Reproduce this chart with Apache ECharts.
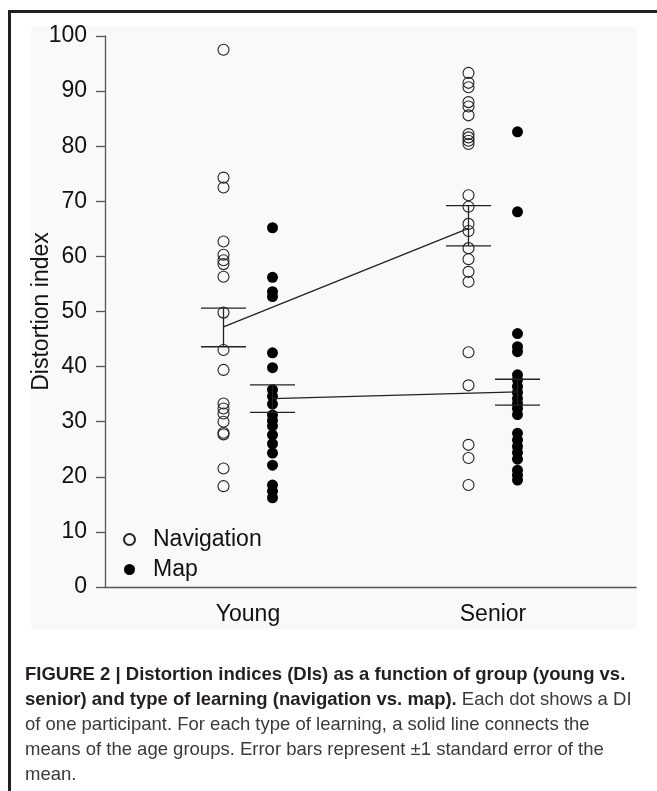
<!DOCTYPE html>
<html>
<head>
<meta charset="utf-8">
<script src="https://cdn.jsdelivr.net/npm/echarts@6/dist/echarts.min.js"></script>
<style>
  html, body { margin: 0; padding: 0; background: #fff; }
  #main { width: 657px; height: 791px; }
</style>
</head>
<body>
<div id="main"></div>
<script>
// groups and their positions on the x scale
var groups = ['Young', 'Senior'];
var groupPos = [1, 2];
var offset = 0.1;

// distortion index of each participant
var youngNav = [97.5, 74.3, 72.5, 62.7, 60.3, 59.3, 58.6, 56.3, 49.8, 43.0, 39.4, 33.3, 32.4, 31.5, 30.0, 28.0, 27.7, 21.5, 18.3];
var youngMap = [65.2, 56.2, 53.6, 52.7, 42.5, 39.8, 35.8, 34.6, 33.2, 31.2, 30.2, 29.2, 27.6, 26.0, 24.3, 22.1, 18.5, 17.4, 16.2];
var seniorNav = [93.3, 91.5, 90.7, 88.0, 87.2, 85.6, 82.2, 81.6, 81.0, 80.4, 71.1, 69.0, 65.9, 64.6, 61.5, 59.5, 57.2, 55.4, 42.6, 36.6, 25.8, 23.4, 18.5];
var seniorMap = [82.6, 68.1, 46.0, 43.6, 42.7, 38.5, 37.6, 36.4, 35.3, 34.2, 33.3, 32.4, 31.3, 27.9, 26.7, 25.5, 24.4, 23.2, 21.2, 20.3, 19.4];

// means and +-1 SE (young, senior)
var navMean = [47.2, 65.1];
var navLow = [43.6, 61.9];
var navHigh = [50.6, 69.2];
var mapMean = [34.2, 35.4];
var mapLow = [31.7, 33.0];
var mapHigh = [36.7, 37.7];

var yTicks = [0, 10, 20, 30, 40, 50, 60, 70, 80, 90, 100];

var dom = document.getElementById('main');
var myChart = echarts.init(dom, null, { renderer: 'canvas' });

function pts(vals, x) {
  return vals.map(function (v) { return [x, v]; });
}

var navPts = pts(youngNav, groupPos[0] - offset).concat(pts(seniorNav, groupPos[1] - offset));
var mapPts = pts(youngMap, groupPos[0] + offset).concat(pts(seniorMap, groupPos[1] + offset));

var errData = [];
for (var i = 0; i < groups.length; i++) {
  errData.push([groupPos[i] - offset, navLow[i], navHigh[i]]);
  errData.push([groupPos[i] + offset, mapLow[i], mapHigh[i]]);
}

var font = '"Liberation Sans", Arial, Helvetica, sans-serif';
var ink = '#111';

var option = {
  animation: false,
  backgroundColor: '#fff',
  textStyle: { fontFamily: font },
  grid: {
    left: 105,
    right: 21,
    top: 36,
    bottom: 204,
    outerBoundsMode: 'none'
  },
  graphic: [
    // light panel behind the plot
    { type: 'rect', z: -10, shape: { x: 31, y: 27, width: 606, height: 602 }, style: { fill: '#f9f9f9' } },
    // figure frame
    { type: 'rect', z: -5, shape: { x: 8, y: 10, width: 649, height: 3 }, style: { fill: '#231f20' } },
    { type: 'rect', z: -5, shape: { x: 8, y: 10, width: 3, height: 781 }, style: { fill: '#231f20' } },
    {
      type: 'text',
      left: 25,
      top: 665,
      style: {
        text: '{b|FIGURE 2 | Distortion indices (DIs) as a function of group (young vs.}\n' +
              '{b|senior) and type of learning (navigation vs. map).}{r| Each dot shows a DI}\n' +
              '{r|of one participant. For each type of learning, a solid line connects the}\n' +
              '{r|means of the age groups. Error bars represent \u00b11 standard error of the}\n' +
              '{r|mean.}',
        rich: {
          b: { fontFamily: font, fontSize: 18.5, fontWeight: 'bold', fill: '#231f20', lineHeight: 25 },
          r: { fontFamily: font, fontSize: 18.5, fill: '#3a3a3a', lineHeight: 25 }
        }
      }
    }
  ],
  legend: {
    orient: 'vertical',
    left: 118,
    top: 523,
    itemWidth: 11,
    itemHeight: 11,
    itemGap: 7,
    data: ['Navigation', 'Map'],
    textStyle: { fontSize: 23, color: ink, fontFamily: font, padding: [0, 0, 0, 13], lineHeight: 23 }
  },
  xAxis: {
    type: 'value',
    min: 0.4163,
    max: 2.5837,
    splitLine: { show: false },
    axisLine: { show: true, onZero: false, lineStyle: { color: '#555', width: 1.3 } },
    axisTick: { show: false },
    axisLabel: {
      customValues: groupPos,
      margin: 16,
      fontSize: 23,
      color: ink,
      fontFamily: font,
      formatter: function (v) {
        var k = groupPos.indexOf(Math.round(v * 1000) / 1000);
        return k >= 0 ? groups[k] : '';
      }
    }
  },
  yAxis: {
    type: 'value',
    min: 0,
    max: 100,
    interval: 10,
    name: 'Distortion index',
    nameLocation: 'middle',
    nameGap: 52,
    nameMoveOverlap: false,
    nameTextStyle: { fontSize: 23, color: ink, fontFamily: font },
    splitLine: { show: false },
    axisLine: { show: true, onZero: false, lineStyle: { color: '#555', width: 1.3 } },
    axisTick: { show: true, length: 9, lineStyle: { color: '#555', width: 1.3 } },
    axisLabel: {
      margin: 18,
      fontSize: 23,
      color: ink,
      fontFamily: font,
      formatter: function (v) { return yTicks.indexOf(v) >= 0 ? String(v) : ''; }
    }
  },
  series: [
    {
      name: 'Navigation',
      type: 'scatter',
      symbol: 'circle',
      symbolSize: 11,
      z: 3,
      itemStyle: { color: 'rgba(0,0,0,0)', borderColor: '#222', borderWidth: 1.1, opacity: 1 },
      data: navPts
    },
    {
      name: 'Map',
      type: 'scatter',
      symbol: 'circle',
      symbolSize: 11,
      z: 3,
      itemStyle: { color: '#000', opacity: 1 },
      data: mapPts
    },
    {
      name: 'navMeanLine',
      type: 'line',
      symbol: 'none',
      z: 4,
      lineStyle: { color: '#222', width: 1.3 },
      data: [[groupPos[0] - offset, navMean[0]], [groupPos[1] - offset, navMean[1]]]
    },
    {
      name: 'mapMeanLine',
      type: 'line',
      symbol: 'none',
      z: 4,
      lineStyle: { color: '#222', width: 1.3 },
      data: [[groupPos[0] + offset, mapMean[0]], [groupPos[1] + offset, mapMean[1]]]
    },
    {
      name: 'se',
      type: 'custom',
      z: 5,
      data: errData,
      renderItem: function (params, api) {
        var lo = api.coord([api.value(0), api.value(1)]);
        var hi = api.coord([api.value(0), api.value(2)]);
        var hw = 22.5;
        var st = { stroke: '#222', lineWidth: 1.3 };
        return {
          type: 'group',
          children: [
            { type: 'line', shape: { x1: lo[0], y1: lo[1], x2: hi[0], y2: hi[1] }, style: st },
            { type: 'line', shape: { x1: lo[0] - hw, y1: lo[1], x2: lo[0] + hw, y2: lo[1] }, style: st },
            { type: 'line', shape: { x1: hi[0] - hw, y1: hi[1], x2: hi[0] + hw, y2: hi[1] }, style: st }
          ]
        };
      }
    }
  ]
};

if (option && typeof option === 'object') {
  myChart.setOption(option);
}

window.addEventListener('resize', myChart.resize);
</script>
</body>
</html>
